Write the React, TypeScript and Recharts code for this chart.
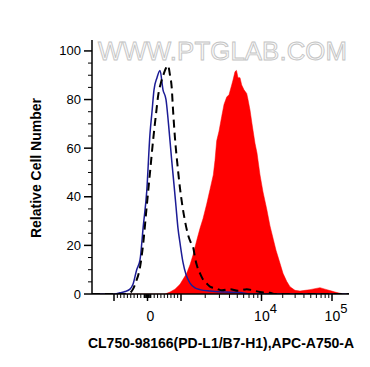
import React from "react";
import { ComposedChart, Area, Line, XAxis, YAxis } from "recharts";

// x positions are display channels (0..257 across the plot), y is % of max
const isotypeX = [0, 23, 28, 33, 38, 41, 44.7, 48, 51.3, 54.7, 58, 60, 62, 65, 68, 71, 74, 76.5, 79.7, 82, 84, 86, 88, 91, 94, 98, 103, 108, 118, 133, 148, 158, 257];
const isotypeY = [0, 0, 0.5, 1, 2, 4, 10, 14, 28, 42, 66, 75, 84, 89, 92, 84, 80, 70, 55, 45, 36, 27, 21, 13, 8, 4.5, 2.5, 1.8, 1.2, 0.8, 0.6, 0, 0];

const controlX = [0, 33, 38, 41, 44, 48, 51, 54.7, 58, 61.3, 64, 66.3, 69, 71.3, 74, 76, 78, 79.7, 81, 83, 85.5, 88, 90.5, 93, 96.3, 99, 101.3, 103, 104.7, 108, 111, 114.7, 118, 124.7, 130, 138, 146, 154.7, 161, 168, 178, 183, 257];
const controlY = [0, 0, 0.5, 2, 5, 11, 20, 36, 50, 64, 74, 82, 87, 90, 93, 94, 90, 85, 76, 64, 53, 43.5, 36, 30, 24, 21, 19, 15, 12, 8.5, 6, 4.3, 3, 2.2, 1.5, 2, 1.3, 2, 1.5, 0.8, 0.5, 0, 0];

const sampleX = [0, 73, 78, 83, 88, 94.7, 98, 101, 104.7, 108, 111, 114.7, 118, 121.3, 123, 124.7, 127, 129.7, 132, 134.7, 137, 139.7, 141, 143, 144.5, 146, 148, 149.7, 152, 154.7, 156, 158, 160, 163, 165, 168, 171, 174.7, 178, 181.3, 184, 188, 191, 194.7, 198, 203, 208, 213, 218, 223, 228, 233, 238, 243, 248, 253, 257];
const sampleY = [0, 0, 0.8, 2, 4, 8.5, 12, 16, 22, 27, 31, 37, 43, 49, 55, 63, 67, 73, 78, 81, 82, 86, 88, 91.5, 92, 89, 89, 86, 84, 82.5, 80, 75.7, 70, 62, 58, 49, 42, 35, 28, 22.5, 18, 12.6, 8.5, 5.2, 3, 1.5, 1.2, 1.5, 1.8, 2.2, 2.6, 2, 1.4, 0.8, 0.3, 0, 0];

const majorValues = [-1000, 0, 1000, 10000, 100000];
const labelledValues = [0, 10000, 100000];
const minorValues = [
  -900, -800, -700, -600, -500, -400, -300, -200, -100,
  -90, -70, -50, -30, -10, 10, 30, 50, 70, 90,
  100, 200, 300, 400, 500, 600, 700, 800, 900,
  2000, 3000, 4000, 5000, 6000, 7000, 8000, 9000,
  20000, 30000, 40000, 50000, 60000, 70000, 80000, 90000,
];
const yTicks = [0, 5, 10, 15, 20, 25, 30, 35, 40, 45, 50, 55, 60, 65, 70, 75, 80, 85, 90, 95, 100];

// approximate biexponential display: linear near zero, log above 10^3
const toChannel = (v: number) => {
  if (Math.abs(v) <= 1000) return 55.5 + (v / 1000) * 33.5;
  if (v <= 10000) return 89 + (Math.log10(v) - 3) * 80.5;
  return 169.5 + (Math.log10(v) - 4) * 70.5;
};

const zip = (xs: number[], ys: number[]) => xs.map((x, i) => ({ x, y: ys[i] }));
const isotypeData = zip(isotypeX, isotypeY);
const controlData = zip(controlX, controlY);
const sampleData = zip(sampleX, sampleY);

const tickEntries = [...majorValues, ...minorValues].map((v) => toChannel(v));
const majorChannels = majorValues.map(toChannel);
const labelFor = (ch: number) => labelledValues.find((lv) => Math.abs(toChannel(lv) - ch) < 0.01);

const font = "'Liberation Sans', Arial, sans-serif";

const XTick = (props: any) => {
  const { x, y, payload } = props;
  const ch = payload.value;
  const major = majorChannels.some((m) => Math.abs(m - ch) < 0.01);
  const lv = labelFor(ch);
  return (
    <g>
      <line x1={x} x2={x} y1={y} y2={y + (major ? 7 : 4)} stroke="#000" strokeWidth={major ? 1.5 : 1} />
      {lv === 0 && (
        <text x={x + 3} y={y + 27} textAnchor="middle" fontSize={14} fontFamily={font} fill="#000">0</text>
      )}
      {lv !== undefined && lv > 0 && (
        <text x={x + 4} y={y + 27} textAnchor="middle" fontSize={14} fontFamily={font} fill="#000">
          10
          <tspan dy={-8} fontSize={13}>{Math.round(Math.log10(lv))}</tspan>
        </text>
      )}
    </g>
  );
};

const YTick = (props: any) => {
  const { x, y, payload } = props;
  const major = payload.value % 20 === 0;
  return (
    <g>
      <line x1={x - (major ? 8 : 4)} x2={x} y1={y} y2={y} stroke="#000" strokeWidth={major ? 1.5 : 1} />
      {major && (
        <text x={x - 11} y={y + 4.5} textAnchor="end" fontSize={13} fontFamily={font} fill="#000">
          {payload.value}
        </text>
      )}
    </g>
  );
};

export default function App() {
  return (
    <div style={{ position: "relative", width: 370, height: 367, background: "#fff" }}>
      <style>{"body{margin:0}"}</style>
      <ComposedChart width={370} height={367} margin={{ top: 40, right: 21, left: 0, bottom: 0 }}>
        <XAxis
          xAxisId="b"
          type="number"
          dataKey="x"
          domain={[0, 257]}
          ticks={tickEntries}
          interval={0}
          tick={<XTick />}
          tickLine={false}
          tickSize={0}
          tickMargin={0}
          axisLine={{ stroke: "#000", strokeWidth: 1.5 }}
          height={73}
          allowDataOverflow
        />
        <XAxis xAxisId="t" orientation="top" type="number" dataKey="x" domain={[0, 257]} tick={false} tickLine={false} axisLine={{ stroke: "#000" }} height={0} />
        <YAxis
          yAxisId="l"
          type="number"
          domain={[0, 104.5]}
          ticks={yTicks}
          interval={0}
          tick={<YTick />}
          tickLine={false}
          tickSize={0}
          tickMargin={0}
          axisLine={{ stroke: "#000", strokeWidth: 1.5 }}
          width={92}
          allowDataOverflow
        />
        <YAxis yAxisId="r" orientation="right" type="number" domain={[0, 104.5]} tick={false} tickLine={false} axisLine={{ stroke: "#000" }} width={0} />
        <Area
          xAxisId="b"
          yAxisId="l"
          data={sampleData}
          dataKey="y"
          type="linear"
          stroke="#ff0000"
          strokeWidth={0.5}
          fill="#ff0000"
          fillOpacity={1}
          isAnimationActive={false}
        />
        <Line
          xAxisId="b"
          yAxisId="l"
          data={isotypeData}
          dataKey="y"
          type="monotone"
          stroke="#1c1c96"
          strokeWidth={1.5}
          dot={false}
          isAnimationActive={false}
        />
        <Line
          xAxisId="b"
          yAxisId="l"
          data={controlData}
          dataKey="y"
          type="monotone"
          stroke="#000"
          strokeWidth={2}
          strokeDasharray="8 5"
          dot={false}
          isAnimationActive={false}
        />
      </ComposedChart>
      <svg width={370} height={367} style={{ position: "absolute", left: 0, top: 0, pointerEvents: "none" }}>
        <text
          x={98}
          y={60}
          fontSize={25.8}
          fontFamily={font}
          fill="#fafafa"
          stroke="#c4c4c4"
          strokeWidth={0.9}
          textLength={249}
        >
          WWW.PTGLAB.COM
        </text>
        <text
          x={0}
          y={0}
          transform="translate(41 168) rotate(-90)"
          textAnchor="middle"
          fontSize={14}
          fontWeight="bold"
          fontFamily={font}
          fill="#000"
        >
          Relative Cell Number
        </text>
        <text x={221} y={348} textAnchor="middle" fontSize={14} fontWeight="bold" fontFamily={font} fill="#000">
          CL750-98166(PD-L1/B7-H1),APC-A750-A
        </text>
      </svg>
    </div>
  );
}
